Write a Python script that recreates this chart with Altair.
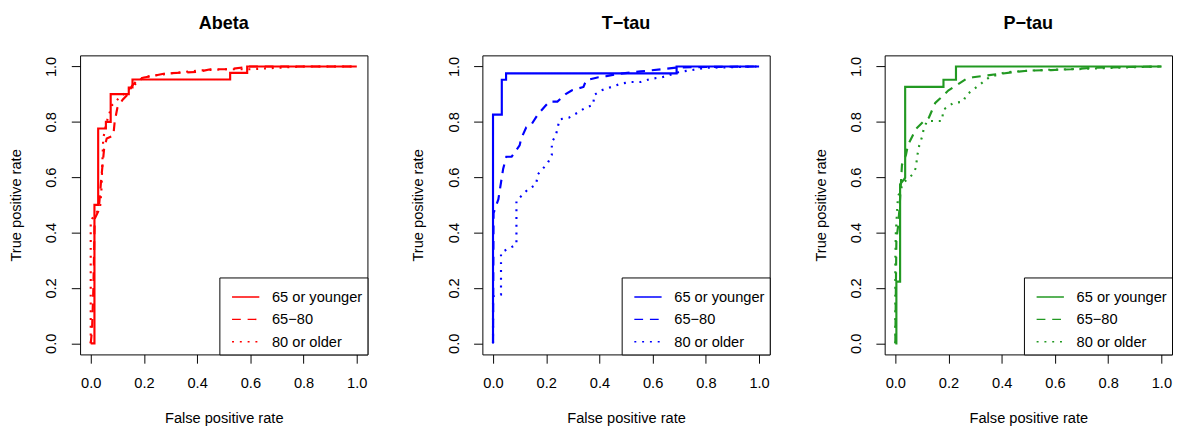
import altair as alt
import pandas as pd

groups = ["65 or younger", "65\u221280", "80 or older"]
panel_titles = ["Abeta", "T\u2212tau", "P\u2212tau"]
panel_colors = ["#FF0000", "#0000FF", "#229922"]
tick_vals = [0, 0.2, 0.4, 0.6, 0.8, 1.0]

# Abeta (red)
abeta_young_fpr = [0, 0.014, 0.014, 0.028, 0.028, 0.057, 0.057, 0.075, 0.075, 0.143, 0.143, 0.157, 0.157, 0.524, 0.524, 0.588, 0.588, 1.0]
abeta_young_tpr = [0, 0, 0.50, 0.50, 0.776, 0.776, 0.80, 0.80, 0.90, 0.90, 0.924, 0.924, 0.953, 0.953, 0.977, 0.977, 1.0, 1.0]
abeta_mid_fpr = [0, 0.005, 0.01, 0.015, 0.03, 0.04, 0.05, 0.06, 0.085, 0.09, 0.1, 0.12, 0.14, 0.155, 0.18, 0.2, 0.23, 0.28, 0.4, 0.45, 0.52, 0.6, 1.0]
abeta_mid_tpr = [0, 0.05, 0.2, 0.45, 0.48, 0.6, 0.7, 0.74, 0.75, 0.80, 0.85, 0.88, 0.9, 0.93, 0.955, 0.96, 0.965, 0.975, 0.98, 0.99, 0.99, 1.0, 1.0]
abeta_old_fpr = [0, 0, 0, 0.005, 0.02, 0.035, 0.04, 0.047, 0.06, 0.07, 0.08, 0.1, 0.14, 0.16, 0.19, 0.22, 0.3, 0.4, 0.5, 0.6, 0.7, 0.8, 1.0]
abeta_old_tpr = [0, 0.16, 0.44, 0.45, 0.47, 0.49, 0.55, 0.74, 0.8, 0.83, 0.86, 0.88, 0.915, 0.93, 0.955, 0.965, 0.975, 0.985, 0.99, 0.99, 0.995, 1.0, 1.0]

# T-tau (blue)
ttau_young_fpr = [0, 0, 0.033, 0.033, 0.049, 0.049, 0.69, 0.69, 1.0]
ttau_young_tpr = [0, 0.826, 0.826, 0.952, 0.952, 0.975, 0.975, 1.0, 1.0]
ttau_mid_fpr = [0, 0.002, 0.009, 0.02, 0.025, 0.038, 0.05, 0.07, 0.1, 0.106, 0.125, 0.144, 0.168, 0.211, 0.242, 0.273, 0.297, 0.34, 0.35, 0.396, 0.426, 0.469, 0.555, 0.635, 0.69, 0.8, 1.0]
ttau_mid_tpr = [0, 0.47, 0.49, 0.52, 0.55, 0.63, 0.674, 0.674, 0.715, 0.74, 0.78, 0.79, 0.826, 0.873, 0.873, 0.90, 0.914, 0.926, 0.95, 0.961, 0.965, 0.973, 0.982, 0.99, 0.996, 0.998, 1.0]
ttau_old_fpr = [0, 0, 0.03, 0.03, 0.088, 0.088, 0.11, 0.13, 0.162, 0.168, 0.205, 0.221, 0.221, 0.236, 0.25, 0.285, 0.316, 0.346, 0.377, 0.38, 0.408, 0.445, 0.482, 0.518, 0.555, 0.592, 0.635, 0.7, 0.8, 1.0]
ttau_old_tpr = [0, 0.17, 0.176, 0.328, 0.357, 0.516, 0.535, 0.555, 0.574, 0.61, 0.65, 0.68, 0.727, 0.75, 0.809, 0.815, 0.832, 0.85, 0.862, 0.897, 0.914, 0.926, 0.938, 0.944, 0.944, 0.955, 0.961, 0.98, 0.995, 1.0]

# P-tau (green)
ptau_young_fpr = [0, 0.004, 0.004, 0.018, 0.018, 0.037, 0.037, 0.181, 0.181, 0.228, 0.228, 1.0]
ptau_young_tpr = [0, 0, 0.223, 0.223, 0.574, 0.598, 0.926, 0.926, 0.952, 0.952, 1.0, 1.0]
ptau_mid_fpr = [0, 0.004, 0.01, 0.016, 0.025, 0.04, 0.047, 0.065, 0.077, 0.108, 0.126, 0.15, 0.169, 0.2, 0.23, 0.267, 0.292, 0.34, 0.39, 0.44, 0.5, 0.586, 0.66, 0.757, 1.0]
ptau_mid_tpr = [0, 0.375, 0.42, 0.49, 0.645, 0.68, 0.715, 0.75, 0.774, 0.803, 0.815, 0.868, 0.885, 0.914, 0.932, 0.955, 0.961, 0.967, 0.973, 0.979, 0.985, 0.987, 0.99, 0.996, 1.0]
ptau_old_fpr = [0, 0, 0.002, 0.005, 0.01, 0.03, 0.065, 0.077, 0.083, 0.09, 0.1, 0.108, 0.12, 0.175, 0.181, 0.218, 0.255, 0.267, 0.322, 0.353, 0.414, 0.51, 0.598, 0.684, 0.757, 1.0]
ptau_old_tpr = [0, 0.3, 0.4, 0.45, 0.53, 0.58, 0.61, 0.633, 0.68, 0.715, 0.744, 0.78, 0.803, 0.803, 0.844, 0.868, 0.873, 0.897, 0.938, 0.961, 0.979, 0.985, 0.989, 0.99, 0.993, 1.0]

panels_data = [
    [(abeta_young_fpr, abeta_young_tpr), (abeta_mid_fpr, abeta_mid_tpr), (abeta_old_fpr, abeta_old_tpr)],
    [(ttau_young_fpr, ttau_young_tpr), (ttau_mid_fpr, ttau_mid_tpr), (ttau_old_fpr, ttau_old_tpr)],
    [(ptau_young_fpr, ptau_young_tpr), (ptau_mid_fpr, ptau_mid_tpr), (ptau_old_fpr, ptau_old_tpr)],
]

FONT = "Liberation Sans"
FS = 15


def make_panel(title, color, series):
    rows = []
    for g, (fx, ty) in zip(groups, series):
        for i, (a, b) in enumerate(zip(fx, ty)):
            rows.append({"fpr": a, "tpr": b, "group": g, "idx": i})
    df = pd.DataFrame(rows)
    return (
        alt.Chart(df, title=alt.TitleParams(title, fontSize=18.5, fontWeight="bold", font=FONT,
                                            anchor="middle", offset=22, dy=-2, color="black"))
        .mark_line(strokeWidth=2.2, color=color, strokeCap="butt")
        .encode(
            x=alt.X("fpr:Q", title="False positive rate",
                    scale=alt.Scale(domain=[-0.04, 1.04], nice=False, zero=False),
                    axis=alt.Axis(values=tick_vals, format=".1f")),
            y=alt.Y("tpr:Q", title="True positive rate",
                    scale=alt.Scale(domain=[-0.04, 1.04], nice=False, zero=False),
                    axis=alt.Axis(values=tick_vals, format=".1f", labelAngle=270,
                                  labelAlign="center", labelBaseline="bottom")),
            strokeDash=alt.StrokeDash(
                "group:N",
                scale=alt.Scale(domain=groups, range=[[1, 0], [9, 7], [2, 6]]),
                legend=alt.Legend(title=None, orient="bottom-right", offset=0,
                                  strokeColor="black", fillColor="white", padding=5,
                                  symbolType="stroke", symbolSize=784, symbolOffset=7,
                                  symbolStrokeColor=color, symbolStrokeWidth=1.5,
                                  labelFontSize=FS, labelFont=FONT, labelColor="black",
                                  labelOffset=12, rowPadding=-16),
            ),
            order="idx:Q",
        )
        .properties(width=295, height=307)
    )


charts = [make_panel(t, c, s) for t, c, s in zip(panel_titles, panel_colors, panels_data)]

chart = (
    alt.hconcat(*charts, spacing=43)
    .resolve_scale(strokeDash="independent")
    .resolve_legend(strokeDash="independent")
    .properties(padding={"left": 0, "top": 0, "right": 0, "bottom": 0})
    .configure_view(stroke="black", strokeWidth=1)
    .configure_axis(
        grid=False, domain=False, ticks=True, tickSize=9, tickColor="black", tickWidth=1,
        labelFont=FONT, labelFontSize=FS, labelColor="black", labelPadding=13,
        titleFont=FONT, titleFontSize=FS, titleFontWeight="normal", titleColor="black",
        titlePadding=21,
    )
)

chart.save("out.html", embed_options={"renderer": "svg", "actions": False})
